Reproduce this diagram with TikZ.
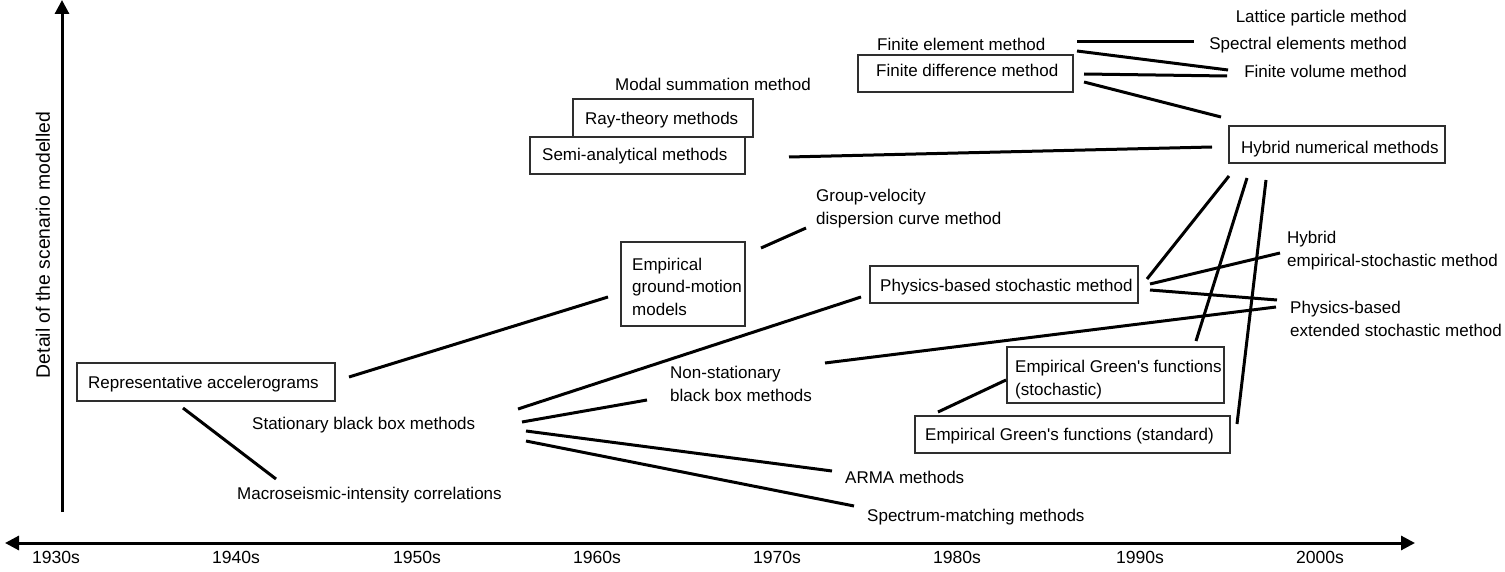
\documentclass[tikz,border=0pt]{standalone}
\usepackage{fontspec}
\setmainfont{Liberation Sans}
\usetikzlibrary{arrows.meta,calc}
\begin{document}
\begin{tikzpicture}[x=1pt,y=-1pt,
  every node/.style={font=\fontsize{17}{22.5}\selectfont, inner sep=0pt, text height=12.2pt, text depth=0pt},
  box/.style={draw=black!82, line width=2pt, rectangle},
  lbl/.style={anchor=west, align=left},
  conn/.style={line width=3pt, black},
  axis/.style={line width=3pt, black, arrows={-Triangle[length=14pt,width=14pt]}},
  yr/.style={anchor=center, font=\fontsize{17.6}{21}\selectfont, text height=12.6pt}
]
\useasboundingbox (0,0) rectangle (1505,572);
% axes
\coordinate (yb) at (62,512);
\coordinate (yt) at (62,0);
\coordinate (xl) at (5,543);
\coordinate (xr) at (1415,543);
\draw[axis] (yb) -- (yt);
\draw[line width=3pt, arrows={Triangle[length=14pt,width=14pt]-Triangle[length=14pt,width=14pt]}] (xl) -- (xr);
\node[rotate=90, font=\fontsize{19.4}{23}\selectfont, text height=13.9pt] (ylab) at (43,245) {Detail of the scenario modelled};
\node[yr] (y30) at (56,557) {1930s};
\node[yr] (y40) at (236,557) {1940s};
\node[yr] (y50) at (417,557) {1950s};
\node[yr] (y60) at (597,557) {1960s};
\node[yr] (y70) at (777,557) {1970s};
\node[yr] (y80) at (957,557) {1980s};
\node[yr] (y90) at (1140,557) {1990s};
\node[yr] (y00) at (1320,557) {2000s};
% boxes
\node[box, minimum width=258pt, minimum height=38pt] (repr) at (206,382) {};
\node[lbl] (reprt) at (88,382) {Representative accelerograms};
\node[box, minimum width=180pt, minimum height=38pt] (ray) at (663,118) {};
\node[lbl] (rayt) at (585,118.5) {Ray-theory methods};
\node[box, fill=white, minimum width=215pt, minimum height=37pt] (semi) at (637.5,155.5) {};
\node[lbl] (semit) at (542,154.5) {Semi-analytical methods};
\node[box, minimum width=215pt, minimum height=37pt] (fdm) at (965.5,73.5) {};
\node[lbl] (fdmt) at (876,70.5) {Finite difference method};
\node[box, minimum width=216pt, minimum height=37pt] (hyb) at (1337,144.5) {};
\node[lbl] (hybt) at (1241,147) {Hybrid numerical methods};
\node[box, minimum width=124pt, minimum height=84pt] (egm) at (683,284) {};
\node[lbl] (egmt) at (632,309) {Empirical\\ground-motion\\models};
\node[box, minimum width=268pt, minimum height=37pt] (pbs) at (1004,284.5) {};
\node[lbl] (pbst) at (880,285.5) {Physics-based stochastic method};
\node[box, minimum width=217pt, minimum height=56pt] (egfs) at (1115.5,375) {};
\node[lbl] (egfst) at (1015,389) {Empirical Green\textquotesingle s functions\\(stochastic)};
\node[box, minimum width=315pt, minimum height=37pt] (egfstd) at (1072.5,434.5) {};
\node[lbl] (egfstdt) at (925,434) {Empirical Green\textquotesingle s functions (standard)};
% labels
\node[lbl] (modal) at (615,84) {Modal summation method};
\node[lbl] (fem) at (877,44) {Finite element method};
\node[anchor=east] (lattice) at (1407,16) {Lattice particle method};
\node[anchor=east] (spectral) at (1407,43) {Spectral elements method};
\node[anchor=east] (fvm) at (1407,71) {Finite volume method};
\node[lbl] (gv) at (816,218) {Group-velocity\\dispersion curve method};
\node[lbl] (hes) at (1287,260) {Hybrid\\empirical-stochastic method};
\node[lbl] (pbes) at (1290,330) {Physics-based\\extended stochastic method};
\node[lbl] (nsb) at (670,395) {Non-stationary\\black box methods};
\node[lbl] (sbb) at (252,423) {Stationary black box methods};
\node[lbl] (macro) at (237,493) {Macroseismic-intensity correlations};
\node[lbl] (arma) at (845,477) {ARMA methods};
\node[lbl] (spec) at (867,515) {Spectrum-matching methods};
% connectors
\draw[conn] ([shift={(13,-5)}]repr.east) -- ([shift={(-12,13)}]egm.west);
\draw[conn] ([shift={(-23,6)}]repr.south) -- ([shift={(39,-14)}]macro.west);
\draw[conn] ([shift={(266,-14)}]sbb.west) -- ([shift={(-8,12.5)}]pbs.west);
\draw[conn] ([shift={(270,-1)}]sbb.west) -- ([shift={(-23,5)}]nsb.west);
\draw[conn] ([shift={(274,8)}]sbb.west) -- ([shift={(-13,-6)}]arma.west);
\draw[conn] ([shift={(274,18)}]sbb.west) -- ([shift={(-13,-9)}]spec.west);
\draw[conn] ([shift={(15,7)}]egm.north east) -- ([shift={(-10,10)}]gv.west);
\draw[conn] ([shift={(43,1.5)}]semi.east) -- ([shift={(-16,2.5)}]hyb.west);
\draw[conn] ([shift={(200,-2)}]fem.west) -- ([shift={(-15,-1)}]spectral.west);
\draw[conn] ([shift={(200,7)}]fem.west) -- ([shift={(-16,-1)}]fvm.west);
\draw[conn] ([shift={(10,0.5)}]fdm.east) -- ([shift={(-17,5)}]fvm.west);
\draw[conn] ([shift={(10,8.5)}]fdm.east) -- ([shift={(-7,-8)}]hyb.north west);
\draw[conn] ([shift={(1,12)}]hyb.south west) -- ([shift={(8,-5.5)}]pbs.east);
\draw[conn] ([shift={(19,14)}]hyb.south west) -- ([shift={(-29,-5)}]egfs.north east);
\draw[conn] ([shift={(38,16)}]hyb.south west) -- ([shift={(6,9)}]egfstd.north east);
\draw[conn] ([shift={(11,-0.5)}]pbs.east) -- ([shift={(-7,-7)}]hes.west);
\draw[conn] ([shift={(11,5.5)}]pbs.east) -- ([shift={(-13,-30)}]pbes.west);
\draw[conn] ([shift={(155,-32)}]nsb.west) -- ([shift={(-14,-23)}]pbes.west);
\draw[conn] ([shift={(24,-3)}]egfstd.north west) -- ([shift={(0,5)}]egfs.west);
\end{tikzpicture}
\end{document}
